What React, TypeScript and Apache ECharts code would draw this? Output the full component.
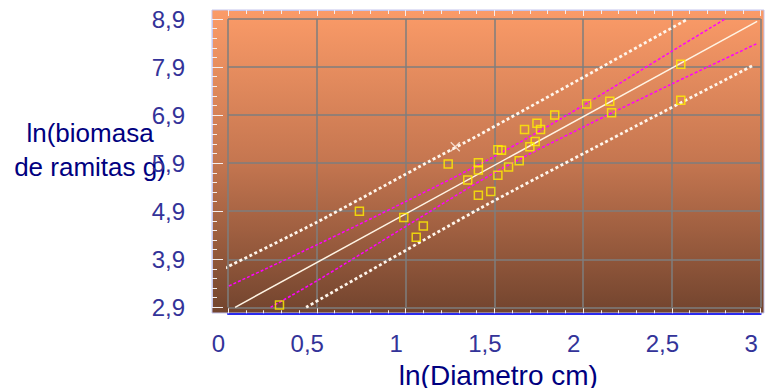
import React, { useEffect, useRef } from "react";
import * as echarts from "echarts";

// ---- data ----
const diamX = [0.29, 0.74, 0.99, 1.1, 1.06, 1.24, 1.41, 1.41, 1.35, 1.41, 1.48, 1.52, 1.58, 1.64, 1.52, 1.54, 1.7, 1.73, 1.67, 1.74, 1.76, 1.84, 2.02, 2.15, 2.16, 2.55, 2.55];
const biomY = [2.95, 4.9, 4.77, 4.59, 4.36, 5.88, 5.91, 5.76, 5.55, 5.23, 5.31, 5.65, 5.82, 5.95, 6.18, 6.17, 6.24, 6.35, 6.6, 6.73, 6.6, 6.9, 7.13, 7.19, 6.95, 7.96, 7.21];

const outlierX = [1.28];
const outlierY = [6.24];

const fitX = [0.04, 2.98];
const fitY = [2.9, 8.85];

const ciUpX = [-0.02, 0.5, 1.0, 1.5, 2.0, 2.5, 2.8];
const ciUpY = [3.3, 4.2, 5.1, 6.04, 7.1, 8.23, 8.9];
const ciLoX = [0.24, 0.5, 1.0, 1.5, 2.0, 2.5, 2.98];
const ciLoY = [2.9, 3.45, 4.58, 5.7, 6.65, 7.55, 8.39];

const piUpX = [-0.02, 0.5, 1.14, 1.41, 2.09, 2.58];
const piUpY = [3.71, 4.67, 5.95, 6.48, 7.87, 8.88];
const piLoX = [0.44, 1.42, 2.26, 2.96];
const piLoY = [2.9, 4.96, 6.6, 7.94];

const xTickValues = [0, 0.5, 1, 1.5, 2, 2.5, 3];
const xTickLabels = ["0", "0,5", "1", "1,5", "2", "2,5", "3"];
const yTickValues = [2.9, 3.9, 4.9, 5.9, 6.9, 7.9, 8.9];
const yTickLabels = ["2,9", "3,9", "4,9", "5,9", "6,9", "7,9", "8,9"];

const xName = "ln(Diametro cm)";
const yName = "ln(biomasa\nde ramitas g)";

const zip = (xs: number[], ys: number[]) => xs.map((x, i) => [x, ys[i]]);
const findLabel = (vals: number[], labels: string[], v: number) => {
  const i = vals.findIndex((t) => Math.abs(t - v) < 1e-6);
  return i >= 0 ? labels[i] : "";
};

const FONT = "'Liberation Sans', Arial, sans-serif";

export default function App() {
  const ref = useRef<HTMLDivElement>(null);
  useEffect(() => {
    if (!ref.current) return;
    const chart = echarts.init(ref.current, undefined, { renderer: "svg" });
    const bg = new echarts.graphic.LinearGradient(0, 0, 0, 1, [
      { offset: 0, color: "#FB9B68" },
      { offset: 0.5, color: "#C57650" },
      { offset: 1, color: "#72442E" },
    ]);
    const tickColor = "#F4EEF0";
    chart.setOption({
      animation: false,
      grid: {
        left: 228,
        top: 19,
        width: 532.7,
        height: 288.3,
        containLabel: false,
        outerBoundsMode: "none",
      },
      graphic: [
        {
          type: "rect",
          z: -10,
          shape: { x: 212, y: 10, width: 552, height: 303 },
          style: { fill: bg, stroke: "#C4C4EC", lineWidth: 1 },
        },
        {
          type: "text",
          x: 90,
          y: 150,
          style: {
            text: yName,
            fontSize: 26,
            fontFamily: FONT,
            fill: "#000080",
            align: "center",
            textAlign: "center",
            verticalAlign: "middle",
            textVerticalAlign: "middle",
            lineHeight: 34,
          },
        },
      ],
      xAxis: [
        {
          type: "value",
          min: 0,
          max: 3,
          interval: 0.5,
          position: "bottom",
          offset: 6,
          axisLine: { show: true, onZero: false, lineStyle: { color: "#2B2BEE", width: 2 } },
          axisTick: { show: true, inside: true, length: 5, lineStyle: { color: tickColor, width: 1 } },
          minorTick: { show: true, splitNumber: 5, length: 3, lineStyle: { color: tickColor, width: 1 } },
          splitLine: { show: true, lineStyle: { color: "#7E7E7E", width: 1.5 } },
          axisLabel: {
            margin: 18,
            color: "#333399",
            fontSize: 24,
            fontFamily: FONT,
            padding: [0, 19, 0, 0],
            formatter: (v: number) => findLabel(xTickValues, xTickLabels, v),
          },
          name: xName,
          nameLocation: "middle",
          nameGap: 33,
          nameTextStyle: {
            fontSize: 28,
            lineHeight: 30,
            fontFamily: FONT,
            color: "#000080",
            padding: [0, 0, 0, 8],
          },
        },
        {
          type: "value",
          min: 0,
          max: 3,
          interval: 0.5,
          position: "top",
          offset: 9,
          axisLine: { show: true, onZero: false, lineStyle: { color: "#C4C4EC", width: 1 } },
          axisTick: { show: true, inside: true, length: 6, lineStyle: { color: tickColor, width: 1 } },
          minorTick: { show: true, splitNumber: 5, length: 4, lineStyle: { color: tickColor, width: 1 } },
          splitLine: { show: false },
          axisLabel: { show: false },
        },
      ],
      yAxis: {
        type: "value",
        min: 2.9,
        max: 8.9,
        interval: 1,
        offset: 16,
        axisLine: { show: true, onZero: false, lineStyle: { color: "#C4C4EC", width: 1 } },
        axisTick: { show: true, inside: true, length: 11, lineStyle: { color: tickColor, width: 1 } },
        minorTick: { show: true, splitNumber: 5, length: 5, lineStyle: { color: tickColor, width: 1 } },
        splitLine: { show: true, lineStyle: { color: "#7E7E7E", width: 1.5 } },
        axisLabel: {
          margin: 27,
          color: "#333399",
          fontSize: 24,
          fontFamily: FONT,
          padding: [5, 0, 0, 0],
          formatter: (v: number) => findLabel(yTickValues, yTickLabels, v),
        },
      },
      series: [
        {
          type: "line",
          data: zip(piUpX, piUpY),
          showSymbol: false,
          symbol: "none",
          clip: false,
          smooth: 0.2,
          lineStyle: { color: "#FFF6EC", width: 2.8, type: [3, 2.6], cap: "butt" },
          z: 3,
        },
        {
          type: "line",
          data: zip(piLoX, piLoY),
          showSymbol: false,
          symbol: "none",
          clip: false,
          smooth: 0.2,
          lineStyle: { color: "#FFF6EC", width: 2.8, type: [3, 2.6], cap: "butt" },
          z: 3,
        },
        {
          type: "line",
          data: zip(ciUpX, ciUpY),
          showSymbol: false,
          symbol: "none",
          clip: false,
          smooth: 0.3,
          lineStyle: { color: "#FF00FF", width: 1.5, type: [3, 2] },
          z: 4,
        },
        {
          type: "line",
          data: zip(ciLoX, ciLoY),
          showSymbol: false,
          symbol: "none",
          clip: false,
          smooth: 0.3,
          lineStyle: { color: "#FF00FF", width: 1.5, type: [3, 2] },
          z: 4,
        },
        {
          type: "line",
          data: zip(fitX, fitY),
          showSymbol: false,
          symbol: "none",
          clip: false,
          lineStyle: { color: "#FFF4E4", width: 1.5 },
          z: 5,
        },
        {
          type: "scatter",
          data: zip(diamX, biomY),
          symbol: "rect",
          symbolSize: 8,
          clip: false,
          itemStyle: { color: "rgba(0,0,0,0)", borderColor: "#FFF000", borderWidth: 1.5 },
          z: 6,
        },
        {
          type: "scatter",
          data: zip(outlierX, outlierY),
          symbol: "path://M0 0L10 10M10 0L0 10",
          symbolSize: 9,
          clip: false,
          itemStyle: { color: "none", borderColor: "#FFF0E6", borderWidth: 1.3 },
          z: 6,
        },
      ],
    });
    return () => chart.dispose();
  }, []);
  return (
    <div
      ref={ref}
      style={{ position: "absolute", left: 0, top: 0, width: 765, height: 388 }}
    />
  );
}
